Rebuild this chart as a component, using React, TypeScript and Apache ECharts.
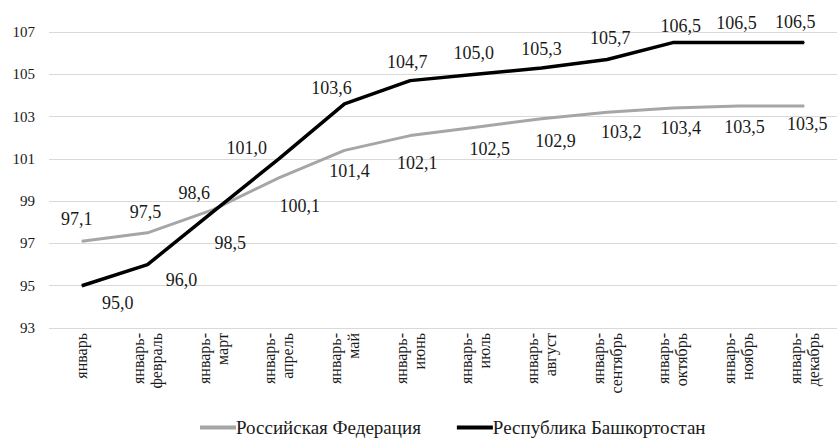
import React, { useEffect, useRef } from "react";
import * as echarts from "echarts";

// Periods (cumulative from January)
const categories: string[] = [
  "январь",
  "январь-\nфевраль",
  "январь-\nмарт",
  "январь-\nапрель",
  "январь-\nмай",
  "январь-\nиюнь",
  "январь-\nиюль",
  "январь-\nавгуст",
  "январь-\nсентябрь",
  "январь-\nоктябрь",
  "январь-\nноябрь",
  "январь-\nдекабрь",
];

const seriesNames: string[] = ["Российская Федерация", "Республика Башкортостан"];

const russiaValues: number[] = [97.1, 97.5, 98.6, 100.1, 101.4, 102.1, 102.5, 102.9, 103.2, 103.4, 103.5, 103.5];
const bashkortostanValues: number[] = [95.0, 96.0, 98.5, 101.0, 103.6, 104.7, 105.0, 105.3, 105.7, 106.5, 106.5, 106.5];

// Value-axis range
const yMin = 93;
const yMax = 107;
const yStep = 2;

// Label placement relative to each point (px)
const russiaLabelOffsets: [number, number][] = [
  [-5, -22], [-2, -21], [-19, -17], [21, 28], [5, 21], [7, 27],
  [14, 22], [14, 22], [14, 20], [8, 20], [6, 21], [3, 18],
];
const bashkortostanLabelOffsets: [number, number][] = [
  [36, 17], [34, 15], [17, 31], [-32, -11], [-13, -16], [-3, -19],
  [-2, -21], [0, -19], [3, -21], [8, -17], [-2, -20], [-9, -21],
];

const FONT = "Liberation Serif";
const TEXT_COLOR = "#1a1a1a";
const fmt = (v: number) => v.toFixed(1).replace(".", ",");

function buildData(values: number[], offsets: [number, number][]) {
  return values.map((v, i) => ({
    value: v,
    label: { offset: offsets[i] },
  }));
}

export default function App() {
  const ref = useRef<HTMLDivElement>(null);

  useEffect(() => {
    if (!ref.current) return;
    const chart = echarts.init(ref.current, null, { renderer: "svg" });

    // numeric labels go through a rich style so the serif face is kept
    const labelBase = {
      show: true,
      position: "inside",
      align: "center",
      verticalAlign: "middle",
      formatter: (p: any) => "{n|" + fmt(p.value) + "}",
      rich: {
        n: { fontFamily: FONT, fontSize: 18, color: TEXT_COLOR },
      },
    };

    chart.setOption({
      animation: false,
      backgroundColor: "#ffffff",
      textStyle: { fontFamily: FONT },
      grid: { left: 49, right: -6, top: 32, bottom: 111 },
      legend: {
        left: 195,
        top: 413,
        icon: "rect",
        itemWidth: 36,
        itemHeight: 4,
        itemGap: 36,
        textStyle: { fontFamily: FONT, fontSize: 19, color: TEXT_COLOR, padding: [0, 0, 0, -5] },
        data: seriesNames,
      },
      xAxis: {
        type: "category",
        data: categories,
        boundaryGap: true,
        axisLine: { show: false },
        axisTick: { show: false },
        axisLabel: {
          rotate: 90,
          margin: 5,
          interval: 0,
          fontFamily: FONT,
          fontSize: 16,
          lineHeight: 18,
          color: TEXT_COLOR,
        },
      },
      yAxis: {
        type: "value",
        min: yMin,
        max: yMax,
        interval: yStep,
        axisLine: { show: false },
        axisTick: { show: false },
        splitLine: { lineStyle: { color: "#d9d9d9", width: 1 } },
        axisLabel: {
          margin: 14,
          formatter: (v: number) => "{n|" + v + "}",
          rich: {
            n: { fontFamily: FONT, fontSize: 15, color: TEXT_COLOR },
          },
        },
      },
      series: [
        {
          name: seriesNames[0],
          type: "line",
          data: buildData(russiaValues, russiaLabelOffsets),
          symbol: "circle",
          symbolSize: 1,
          showSymbol: true,
          lineStyle: { color: "#a6a6a6", width: 3 },
          itemStyle: { color: "#a6a6a6" },
          label: labelBase,
          z: 2,
        },
        {
          name: seriesNames[1],
          type: "line",
          data: buildData(bashkortostanValues, bashkortostanLabelOffsets),
          symbol: "circle",
          symbolSize: 1,
          showSymbol: true,
          lineStyle: { color: "#000000", width: 3.5 },
          itemStyle: { color: "#000000" },
          label: labelBase,
          z: 3,
        },
      ],
    });

    return () => chart.dispose();
  }, []);

  return <div ref={ref} style={{ width: 837, height: 439, position: "absolute", left: 0, top: 0 }} />;
}
